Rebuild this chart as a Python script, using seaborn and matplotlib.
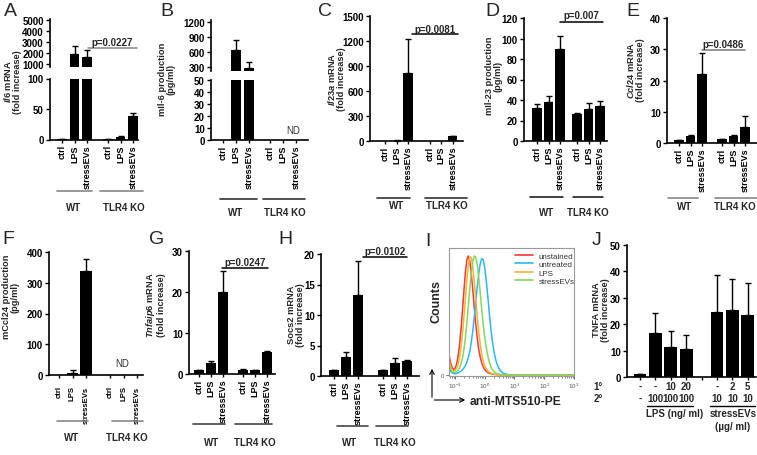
import numpy as np
import pandas as pd
import matplotlib
matplotlib.use("Agg")
import matplotlib.pyplot as plt
import seaborn as sns
from matplotlib.lines import Line2D
from matplotlib.patches import FancyArrowPatch
from matplotlib.transforms import blended_transform_factory

# ---------------- data ----------------
conditions = ["ctrl", "LPS", "stressEVs"]
genotypes = ["WT", "TLR4 KO"]

il6_mrna = [1, 1900, 1700, 1, 4.5, 39]
il6_mrna_sem = [0.1, 750, 550, 0.1, 1.0, 5]
il6_prod = [0, 640, 270, 0, 0, 0]
il6_prod_sem = [0, 190, 120, 0, 0, 0]
il23a_mrna = [1, 6, 820, 0.5, 0.5, 55]
il23a_mrna_sem = [0, 2, 405, 0, 0, 6]
il23_prod = [32.5, 38, 90, 26, 31.5, 34]
il23_prod_sem = [3.5, 5.5, 12, 1.5, 6, 5.5]
ccl24_mrna = [1, 2.3, 22, 1.2, 2.4, 5.2]
ccl24_mrna_sem = [0.1, 0.3, 6.7, 0.1, 0.3, 3.5]
ccl24_prod = [1, 5, 337, 0, 0, 0]
ccl24_prod_sem = [0, 11, 39, 0, 0, 0]
tnfaip6_mrna = [1, 2.7, 20, 1.05, 0.9, 5.4]
tnfaip6_mrna_sem = [0.05, 0.35, 5.1, 0.05, 0.05, 0.2]
socs2_mrna = [1, 3.1, 13.3, 1, 2.1, 2.5]
socs2_mrna_sem = [0.05, 0.8, 5.5, 0.05, 0.9, 0.2]

tnfa_mrna = [1, 16.5, 11.5, 10.5, 24.5, 25.5, 23.5]
tnfa_mrna_sem = [0.2, 7.8, 6.0, 5.3, 14.0, 11.8, 12.0]
j_primary = ["-", "-", "10", "20", "-", "2", "5"]
j_secondary = ["-", "100", "100", "100", "10", "10", "10"]

p_values = {"A": "p=0.0227", "C": "p=0.0081", "D": "p=0.007",
            "E": "p=0.0486", "G": "p=0.0247", "H": "p=0.0102"}

flow_log10 = [-1.20, -1.15, -1.10, -1.05, -1.00, -0.95, -0.90, -0.85, -0.80, -0.75,
              -0.70, -0.65, -0.60, -0.55, -0.50, -0.45, -0.40, -0.35, -0.30, -0.25,
              -0.20, -0.15, -0.10, -0.05, 0.00, 0.05, 0.10, 0.15, 0.20, 0.25,
              0.30, 0.35, 0.40, 0.45, 0.50, 0.55, 0.60, 0.65, 0.70, 0.75,
              0.80, 0.85, 0.90, 0.95, 1.00, 2.00, 3.00]
flow_unstained = [16, 10, 6, 4.5, 5, 8, 14, 23, 35, 50, 66, 81, 91, 94, 90, 80, 67, 53, 40, 29,
                  20, 14, 9.5, 6.5, 4.5, 3, 2, 1.4, 1, 0.7, 0.5, 0.4, 0.3, 0.2, 0.2, 0.1, 0.1,
                  0.1, 0.1, 0, 0, 0, 0, 0, 0, 0, 0]
flow_untreated = [5, 3, 1.8, 1.2, 1, 1.2, 1.6, 2.2, 3, 4, 5.5, 7.5, 10, 14, 19, 26, 35, 46, 58, 70,
                  80, 88, 92, 91, 85, 75, 63, 50, 38, 28, 20, 14, 9.5, 6.5, 4.3, 2.8, 1.8, 1.2,
                  0.8, 0.5, 0.3, 0.2, 0.1, 0.1, 0, 0, 0]
flow_lps = [12, 7, 4, 3, 3.5, 5, 8, 13, 21, 32, 45, 60, 75, 87, 93, 93, 86, 74, 60, 46,
            34, 24, 16, 11, 7.5, 5, 3.3, 2.2, 1.5, 1, 0.7, 0.5, 0.3, 0.2, 0.2, 0.1, 0.1,
            0.1, 0, 0, 0, 0, 0, 0, 0, 0, 0]
flow_stressevs = [8, 5, 3, 2.2, 2, 2.5, 3.5, 5.5, 8.5, 13, 20, 29, 41, 55, 69, 81, 90, 94, 93, 87,
                  77, 65, 52, 40, 30, 22, 15.5, 10.5, 7, 4.5, 3, 2, 1.3, 0.9, 0.6, 0.4, 0.3,
                  0.2, 0.1, 0.1, 0, 0, 0, 0, 0, 0, 0]
flow_labels = ["unstained", "untreated", "LPS", "stressEVs"]
flow_colors = ["#f03a3a", "#2bb8f2", "#f5b431", "#86d75e"]

# ---------------- style ----------------
sns.set_theme(style="ticks")
plt.rcParams["font.family"] = ["Liberation Sans", "DejaVu Sans"]
plt.rcParams["font.weight"] = "bold"
plt.rcParams["mathtext.fontset"] = "custom"
plt.rcParams["mathtext.it"] = "Liberation Sans:italic:bold"
plt.rcParams["mathtext.rm"] = "Liberation Sans:bold"
plt.rcParams["mathtext.bf"] = "Liberation Sans:bold"

W, H = 757, 456
fig = plt.figure(figsize=(W / 100, H / 100), dpi=100)
FS = 7
XFS = 6.5
LFS = 6.7


def add_ax(l, r, t, b):
    return fig.add_axes([l / W, 1 - b / H, (r - l) / W, (b - t) / H])


def ftext(x, y, s, **kw):
    kw.setdefault("ha", "center")
    kw.setdefault("va", "center")
    kw.setdefault("fontsize", FS)
    fig.text(x / W, 1 - y / H, s, **kw)


def fline(x0, x1, y, color="black", lw=1.0):
    fig.add_artist(Line2D([x0 / W, x1 / W], [1 - y / H, 1 - y / H], color=color, lw=lw,
                          transform=fig.transFigure))


def draw_bars(ax, pos, vals, sems, width):
    df = pd.DataFrame({"pos": pos, "val": vals})
    sns.barplot(data=df, x="pos", y="val", native_scale=True, width=width, color="black",
                saturation=1, errorbar=None, linewidth=0, ax=ax)
    p = np.asarray(pos, float)
    v = np.asarray(vals, float)
    s = np.asarray(sems, float)
    m = s > 0
    ax.errorbar(p[m], v[m], yerr=[np.zeros(m.sum()), s[m]], fmt="none", ecolor="black",
                elinewidth=1.0, capsize=2.5, capthick=1.0)


def style(ax, xpad=0.8, xfs=XFS):
    sns.despine(ax=ax)
    for s in ["left", "bottom"]:
        ax.spines[s].set_linewidth(1.2)
        ax.spines[s].set_color("black")
    ax.tick_params(axis="y", direction="out", length=3, width=1.0, labelsize=FS, pad=1.5,
                   colors="black")
    ax.tick_params(axis="x", direction="out", length=2.5, width=1.0, labelsize=xfs, pad=xpad,
                   colors="black")
    ax.set_xlabel("")
    ax.set_ylabel("")


def bar_panel(l, r, t, b, first, sp, gap, vals, sems, ylim, yticks, wfrac, xpad=0.8, xfs=XFS):
    ax = add_ax(l, r, t, b)
    pos = [0, 1, 2, gap, gap + 1, gap + 2]
    draw_bars(ax, pos, vals, sems, wfrac)
    ax.set_xlim((l - first) / sp, (r - first) / sp)
    ax.set_ylim(*ylim)
    ax.set_yticks(yticks)
    ax.set_xticks(pos)
    ax.set_xticklabels(conditions * 2, rotation=90)
    style(ax, xpad, xfs)
    return ax, pos


def top_part(l, r, t, b, first, sp, gap, vals, sems, ylim, yticks, wfrac):
    ax = add_ax(l, r, t, b)
    pos = [0, 1, 2, gap, gap + 1, gap + 2]
    draw_bars(ax, pos, vals, sems, wfrac)
    ax.set_xlim((l - first) / sp, (r - first) / sp)
    ax.set_ylim(*ylim)
    ax.set_yticks(yticks)
    style(ax)
    ax.spines["bottom"].set_visible(False)
    ax.tick_params(axis="x", bottom=False, labelbottom=False)
    return ax


def groups(line_y, text_y, wt, ko, wt_x, ko_x, color):
    fline(wt[0], wt[1], line_y, color, 1.2)
    fline(ko[0], ko[1], line_y, color, 1.2)
    ftext(wt_x, text_y, genotypes[0])
    ftext(ko_x, text_y, genotypes[1])


def pval(key, x0, x1, y, ty, color="black"):
    fline(x0, x1, y, color, 1.1)
    ftext((x0 + x1) / 2, ty, p_values[key])


def ylab(x, y, s):
    ftext(x, y, s, rotation=90, linespacing=1.0, multialignment="center", fontsize=LFS)


def letter(x, y, s):
    ftext(x, y, s, fontsize=14, fontweight="normal")


# ---------------- A ----------------
top_part(50, 138, 20.1, 68, 62, 12.5, 3.68, il6_mrna, il6_mrna_sem,
         (758, 5063), [1000, 2000, 3000, 4000, 5000], 0.76)
bar_panel(50, 138, 79.5, 140.5, 62, 12.5, 3.68, il6_mrna, il6_mrna_sem,
          (0, 100), [0, 50, 100], 0.76)
ylab(12, 82, "$\\mathit{Il6}$ mRNA\n(fold increase)")
groups(192, 208, (57, 92), (100, 143), 74, 124, "#888888")
pval("A", 88, 137, 49, 43, "#888888")
letter(10, 11, "A")

# ---------------- B ----------------
top_part(211, 308, 21, 72, 223, 13, 3.6, il6_prod, il6_prod_sem,
         (214, 1234), [300, 600, 900, 1200], 0.76)
bar_panel(211, 308, 80.7, 141, 223, 13, 3.6, il6_prod, il6_prod_sem,
          (0, 50), [0, 10, 20, 30, 40, 50], 0.76)
ylab(167, 79, "mIl-6 production\n(pg/ml)")
groups(200, 213, (220, 257), (263, 305), 236, 285, "#333333")
ftext(293, 131, "ND", fontweight="normal", color="#333333")
letter(167, 12, "B")

# ---------------- C ----------------
bar_panel(370, 463, 17, 142, 385, 11.5, 3.9, il23a_mrna, il23a_mrna_sem,
          (0, 1500), [0, 300, 600, 900, 1200, 1500], 0.8)
ylab(336, 79, "$\\mathit{Il23a}$ mRNA\n(fold increase)")
groups(199, 206, (377, 410), (425, 467), 397, 447, "#333333")
pval("C", 412, 458, 35, 30)
letter(325, 12, "C")

# ---------------- D ----------------
bar_panel(524, 607, 19, 142, 537, 11.5, 3.48, il23_prod, il23_prod_sem,
          (0, 120), [0, 20, 40, 60, 80, 100, 120], 0.82)
ylab(494, 76, "mIl-23 production\n(pg/ml)")
groups(198, 213, (530, 563), (573, 603), 547, 588, "#222222")
pval("D", 560, 603, 23, 16)
letter(492, 12, "D")

# ---------------- E ----------------
bar_panel(667, 757, 19, 144, 679, 11.5, 3.74, ccl24_mrna, ccl24_mrna_sem,
          (0, 40), [0, 10, 20, 30, 40], 0.82)
ylab(635, 70, "$\\mathit{Ccl24}$ mRNA\n(fold increase)")
groups(199, 207, (668, 698), (715, 757), 685, 735, "#888888")
pval("E", 702, 745, 51, 45, "#777777")
letter(633, 11, "E")

# ---------------- F ----------------
bar_panel(49, 143, 253, 376, 59, 13.5, 3.78, ccl24_prod, ccl24_prod_sem,
          (0, 400), [0, 100, 200, 300, 400], 0.88, xpad=5, xfs=5.6)
ylab(11, 297, "mCcl24 production\n(pg/ml)")
groups(422, 438, (57, 88), (112, 143), 72, 127, "#888888")
ftext(122, 364, "ND", fontweight="normal", color="#333333")
letter(8, 240, "F")

# ---------------- G ----------------
bar_panel(189, 275, 252, 375, 199, 12, 3.67, tnfaip6_mrna, tnfaip6_mrna_sem,
          (0, 30), [0, 10, 20, 30], 0.76)
ylab(155, 305, "$\\mathit{Tnfaip6}$ mRNA\n(fold increase)")
groups(425, 443, (193, 225), (235, 272), 212, 255, "#444444")
pval("G", 222, 268, 269, 263)
letter(157, 240, "G")

# ---------------- H ----------------
bar_panel(321, 419, 255, 377, 334, 12, 4.08, socs2_mrna, socs2_mrna_sem,
          (0, 20), [0, 5, 10, 15, 20], 0.78)
ylab(296, 315, "Socs2 mRNA\n(fold increase)")
groups(427, 443, (337, 368), (376, 408), 350, 395, "#444444")
pval("H", 363, 407, 258, 252)
letter(285, 240, "H")

# ---------------- I (flow histogram) ----------------
axi = add_ax(449, 574, 249, 377)
rows = []
for lab, vals in zip(flow_labels, [flow_unstained, flow_untreated, flow_lps, flow_stressevs]):
    for lx, v in zip(flow_log10, vals):
        rows.append({"x": 10.0 ** lx, "count": v, "sample": lab})
flow_df = pd.DataFrame(rows)
sns.lineplot(data=flow_df, x="x", y="count", hue="sample", hue_order=flow_labels,
             palette=dict(zip(flow_labels, flow_colors)), estimator=None, sort=False,
             linewidth=1.1, legend=False, ax=axi)
axi.set_xscale("log")
axi.set_xlim(10 ** -1.2, 10 ** 3)
axi.set_ylim(-0.8, 100.3)
axi.set_yticks([0])
axi.set_xticks([0.1, 1, 10, 100, 1000])
for s in axi.spines.values():
    s.set_color("#9a9a9a")
    s.set_linewidth(0.8)
axi.tick_params(axis="both", which="major", length=2, width=0.6, labelsize=4.5,
                colors="#555555", pad=1.5)
axi.tick_params(axis="x", which="minor", length=1.2, width=0.5, colors="#555555")
for t in axi.get_xticklabels() + axi.get_yticklabels():
    t.set_fontweight("normal")
axi.set_xlabel("")
axi.set_ylabel("")
handles = [Line2D([], [], color=c, lw=1.2) for c in flow_colors]
axi.legend(handles, flow_labels, loc="upper left", bbox_to_anchor=(515 / W, 1 - 253 / H),
           bbox_transform=fig.transFigure, frameon=False,
           prop={"size": 5.8, "weight": "normal"}, handlelength=2.2, handletextpad=0.7,
           labelspacing=0.1, borderaxespad=0, borderpad=0, labelcolor="#333333")
ftext(436, 302, "Counts", rotation=90, fontsize=9)
fig.add_artist(FancyArrowPatch((432 / W, 1 - 401 / H), (432 / W, 1 - 367 / H),
                               arrowstyle="->", mutation_scale=8, lw=0.8, color="black",
                               transform=fig.transFigure))
fig.add_artist(FancyArrowPatch((431.6 / W, 1 - 401 / H), (468 / W, 1 - 401 / H),
                               arrowstyle="->", mutation_scale=8, lw=0.8, color="black",
                               transform=fig.transFigure))
ftext(470, 402, "anti-MTS510-PE", ha="left", fontsize=8.7)
letter(428, 242, "I")

# ---------------- J ----------------
axj = add_ax(627, 756, 246, 378)
jpos = [0, 1, 2, 3, 5, 6, 7]
draw_bars(axj, jpos, tnfa_mrna, tnfa_mrna_sem, 0.84)
axj.set_xlim((627 - 640) / 15.4, (756 - 640) / 15.4)
axj.set_ylim(0, 50)
axj.set_yticks([0, 10, 20, 30, 40, 50])
axj.set_xticks(range(8))
axj.set_xticklabels([""] * 8)
style(axj)
tr = blended_transform_factory(axj.transData, fig.transFigure)
for p, a, b in zip(jpos, j_primary, j_secondary):
    axj.text(p, 1 - 387 / H, a, transform=tr, ha="center", va="center", fontsize=FS)
    axj.text(p, 1 - 399 / H, b, transform=tr, ha="center", va="center", fontsize=FS)
ftext(598, 387, "1°")
ftext(598, 399, "2°")
fline(647, 693, 407, "black", 1.0)
fline(710, 755, 407, "black", 1.0)
ftext(675, 414, "LPS (ng/ ml)")
ftext(733, 414, "stressEVs")
ftext(733, 427, "(µg/ ml)")
ylab(601, 310, "TNFA mRNA\n(fold increase)")
letter(597, 241, "J")

fig.savefig("out.png", dpi=100)
